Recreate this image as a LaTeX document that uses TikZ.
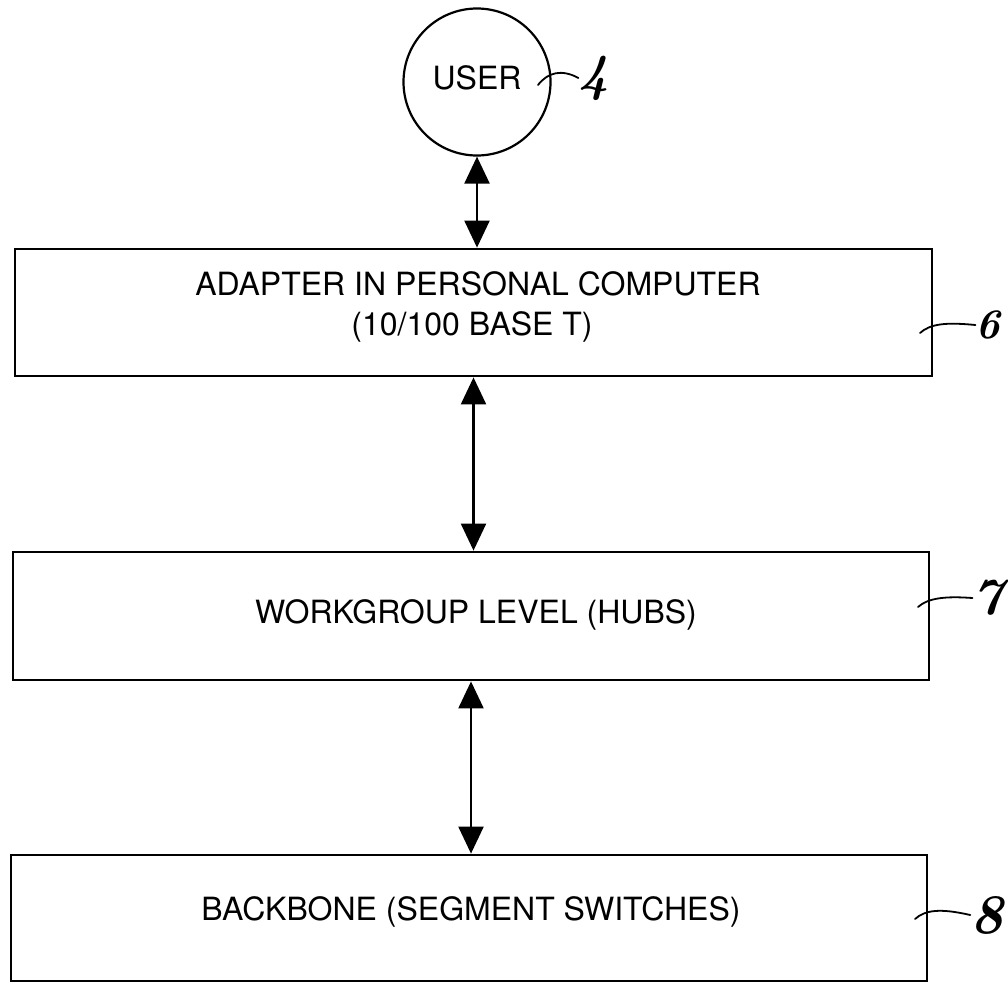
\documentclass[tikz,border=0pt]{standalone}
\usepackage{fontspec}
\newfontfamily\hv{TeX Gyre Heros}
\usetikzlibrary{arrows.meta}
\begin{document}
\begin{tikzpicture}[x=1pt,y=-1pt,
  box/.style={draw, line width=2.8pt, inner sep=0pt},
  txt/.style={font=\hv\fontsize{32}{40}\selectfont, inner sep=0pt, anchor=base},
  dbl/.style={line width=2.2pt, {Triangle[width=25pt,length=27pt]}-{Triangle[width=25pt,length=27pt]}},
  lead/.style={line width=1.8pt, line cap=round},
  num/.style={font=\bfseries\itshape\fontsize{52}{52}\selectfont, inner sep=0pt}]
\useasboundingbox (0,0) rectangle (1008,991);
% user circle
\node[circle, draw, line width=2.2pt, minimum size=147pt, inner sep=0pt, text depth=8pt,
      font=\hv\fontsize{32}{40}\selectfont] (user) at (477,82) {USER};
% boxes
\node[box, minimum width=917pt, minimum height=127pt] (b1) at (473.5,312.5) {};
\node[box, minimum width=916pt, minimum height=128pt] (b2) at (471,616) {};
\node[box, minimum width=916pt, minimum height=126pt] (b3) at (469,918) {};
% texts
\node[txt] (t1a) at (478,295) {ADAPTER IN PERSONAL COMPUTER};
\node[txt] (t1b) at (472,335) {(10/100 BASE T)};
\node[txt] (t2) at (476,623) {WORKGROUP LEVEL (HUBS)};
\node[txt] (t3) at (471,920) {BACKBONE (SEGMENT SWITCHES)};
% arrows
\draw[dbl] (user.south) -- (user.south |- b1.north);
\draw[dbl] (b1.south) -- (b1.south |- b2.north);
\draw[dbl] (b2.south) -- (b2.south |- b3.north);
% reference numerals
\node[num] (n4) at (594,78) {4};
\node[num, font=\bfseries\itshape\fontsize{42}{42}\selectfont] (n6) at (988,325) {6};
\node[num] (n7) at (988,598) {7};
\node[num, font=\bfseries\itshape\fontsize{56}{56}\selectfont] (n8) at (987,915) {8};
\coordinate (l4) at (538,85);
\coordinate (l6) at (920,333);
\coordinate (l7) at (918,607);
\coordinate (l8) at (915,919);
\draw[lead] (l4) .. controls (548,72) and (562,69) .. (n4.west);
\draw[lead] (l6) .. controls (930,324) and (945,322) .. (n6.west);
\draw[lead] (l7) .. controls (928,598) and (945,596) .. (n7.west);
\draw[lead] (l8) .. controls (925,910) and (940,908) .. (n8.west);
\end{tikzpicture}
\end{document}
